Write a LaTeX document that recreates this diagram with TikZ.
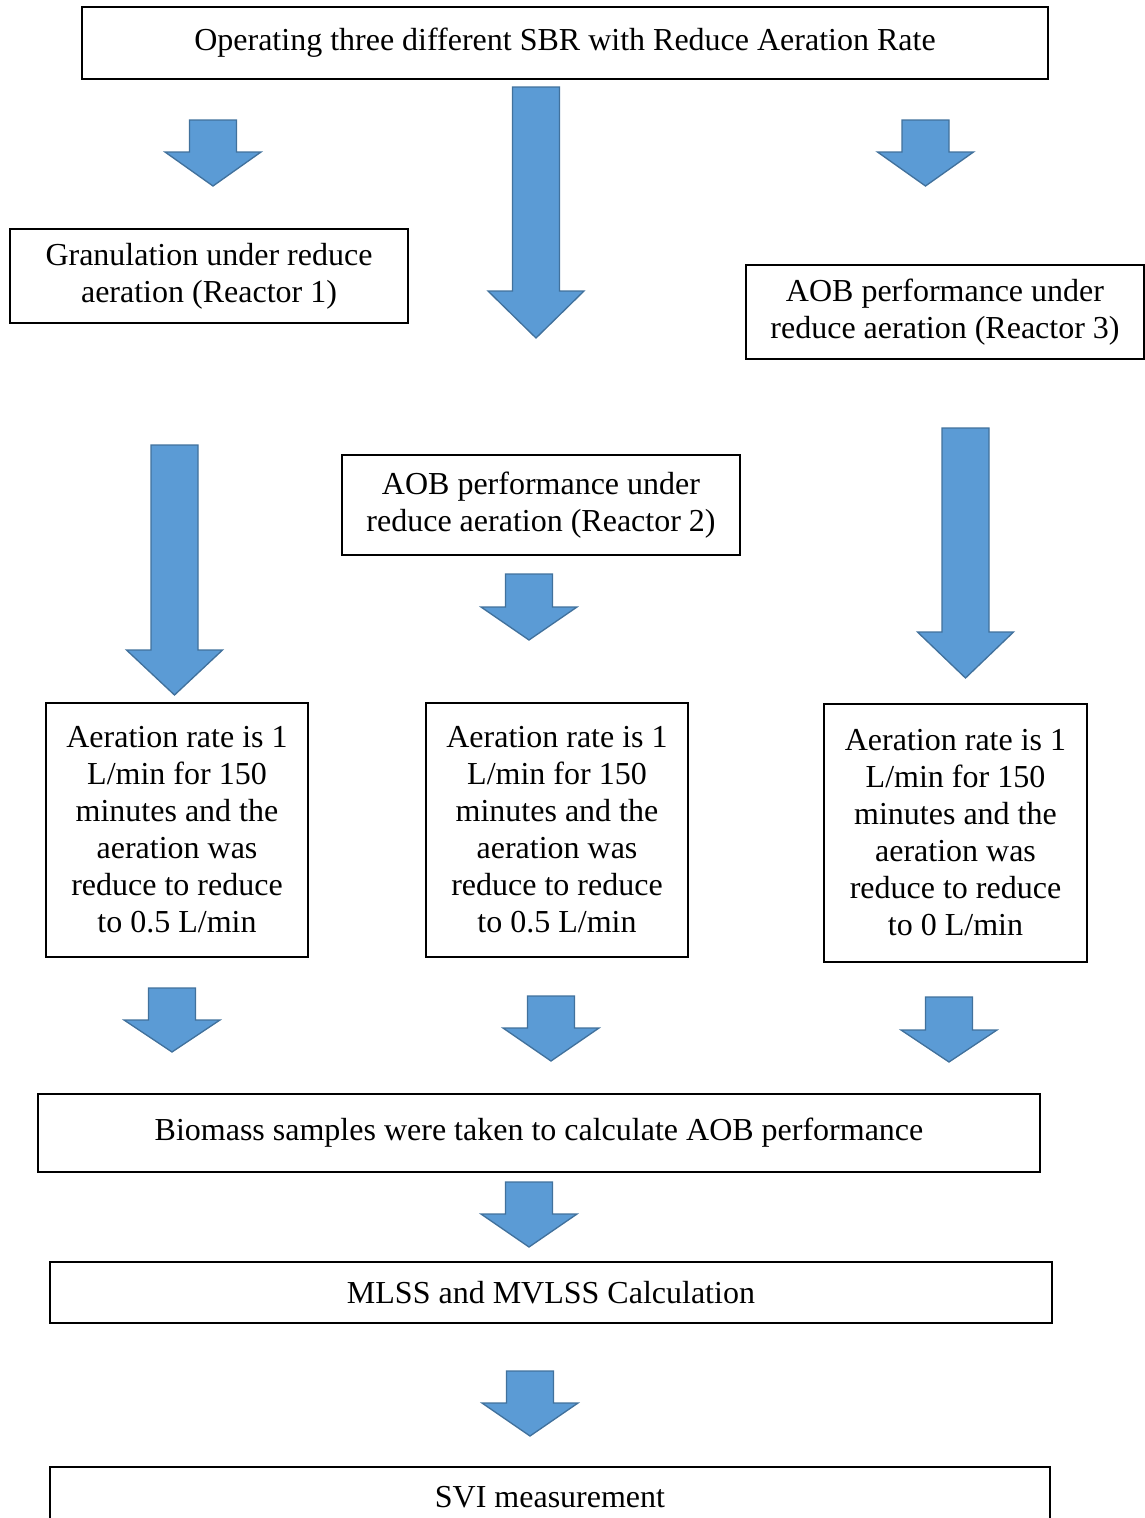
\documentclass[tikz,border=0pt]{standalone}
\usepackage{fontspec}
\setmainfont{Liberation Serif}
\usepackage{tikz}
\usetikzlibrary{positioning}
\definecolor{ArrowFill}{HTML}{5B9BD5}
\definecolor{ArrowEdge}{HTML}{41719C}
\tikzset{
  BX/.style={rectangle,draw=black,line width=1.5pt,fill=white,
             text centered,align=center,inner sep=2pt,
             font=\fontsize{24pt}{27.75pt}\selectfont},
  blk/.style={fill=ArrowFill,draw=ArrowEdge,line width=1pt,line join=miter}
}
% block arrow: centre x, top, neck, tip
\newcommand{\blockarrow}[4]{%
  \draw[blk] (#1-23.5,#2)--(#1+23.5,#2)--(#1+23.5,#3)--(#1+48,#3)
    --(#1,#4)--(#1-48,#3)--(#1-23.5,#3)--cycle;}
\begin{document}
\begin{tikzpicture}[x=0.75pt,y=-0.75pt]
  \useasboundingbox (0,0) rectangle (1145,1518);
  \node[BX,minimum width=724.5pt,minimum height=54pt] (start) at (565,43)
    {Operating three different SBR with Reduce Aeration Rate};

  \node[BX,minimum width=298.5pt,minimum height=70.5pt] (rone) at (209,276)
    {Granulation under reduce\\aeration (Reactor 1)};
  \node[BX,minimum width=298.5pt,minimum height=70.5pt] (rthree) at (945,312)
    {AOB performance under\\reduce aeration (Reactor 3)};
  \node[BX,minimum width=298.5pt,minimum height=75pt] (rtwo) at (541,505)
    {AOB performance under\\reduce aeration (Reactor 2)};

  \node[BX,minimum width=196.5pt,minimum height=190.5pt] (aerone) at (177,830)
    {Aeration rate is 1\\L/min for 150\\minutes and the\\aeration was\\reduce to reduce\\to 0.5 L/min};
  \node[BX,minimum width=196.5pt,minimum height=190.5pt] (aertwo) at (557,830)
    {Aeration rate is 1\\L/min for 150\\minutes and the\\aeration was\\reduce to reduce\\to 0.5 L/min};
  \node[BX,minimum width=197.25pt,minimum height=193.5pt] (aerthree) at (955.5,833)
    {Aeration rate is 1\\L/min for 150\\minutes and the\\aeration was\\reduce to reduce\\to 0 L/min};

  \node[BX,minimum width=751.5pt,minimum height=58.5pt] (bio) at (539,1133)
    {Biomass samples were taken to calculate AOB performance};
  \node[BX,minimum width=751.5pt,minimum height=45.75pt] (mlss) at (551,1292.5)
    {MLSS and MVLSS Calculation};
  \node[BX,minimum width=750pt,minimum height=45pt] (svi) at (550,1497)
    {SVI measurement};

  % arrows
  \blockarrow{213}{120}{152}{186}
  \blockarrow{536}{87}{291}{338}
  \blockarrow{925.5}{120}{152}{186}
  \blockarrow{174.5}{445}{650}{695}
  \blockarrow{529}{574}{607}{640}
  \blockarrow{965.5}{428}{632}{678}
  \blockarrow{172}{988}{1020}{1052}
  \blockarrow{551}{996}{1028}{1061}
  \blockarrow{949}{997}{1030}{1062}
  \blockarrow{529}{1182}{1214}{1247}
  \blockarrow{530}{1371}{1403}{1436}
\end{tikzpicture}
\end{document}
